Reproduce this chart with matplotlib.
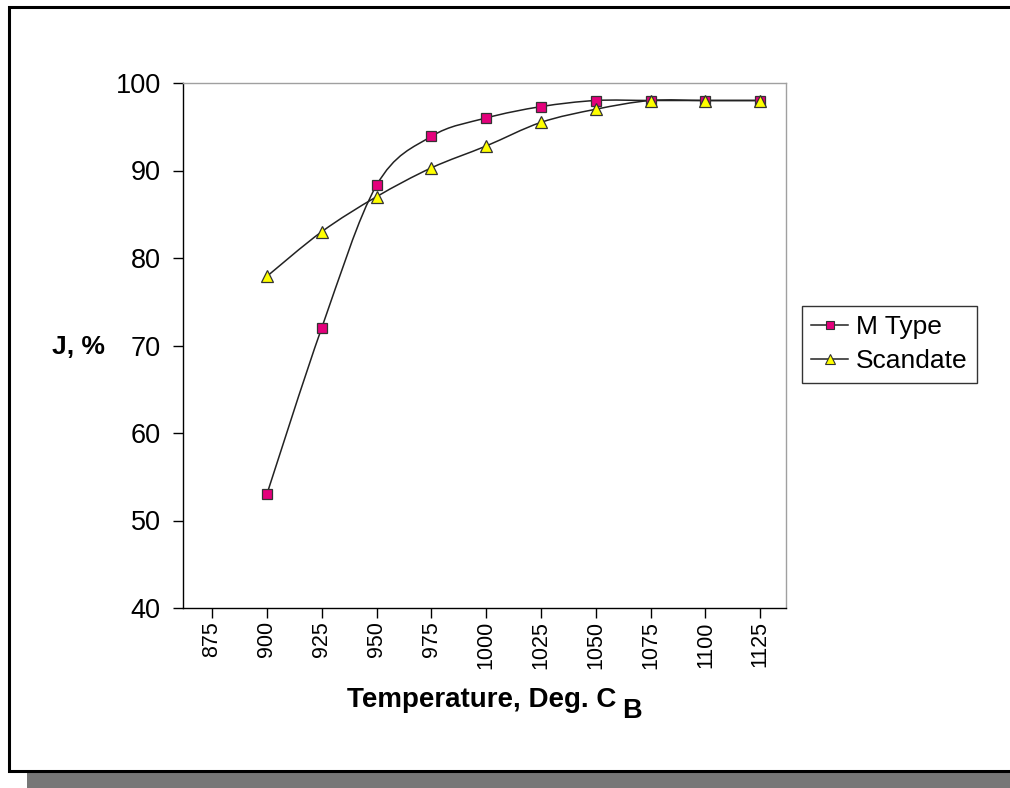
import numpy as np
import matplotlib.pyplot as plt
from matplotlib.path import Path
from matplotlib.patches import PathPatch, Rectangle
from matplotlib.lines import Line2D

plt.rcParams["font.family"] = ["Liberation Sans", "DejaVu Sans"]

# data
temps = ["875", "900", "925", "950", "975", "1000", "1025", "1050", "1075", "1100", "1125"]
m_type = [None, 53.0, 72.0, 88.3, 93.9, 96.0, 97.3, 98.0, 98.0, 98.0, 98.0]
scandate = [None, 77.9, 83.0, 87.0, 90.3, 92.8, 95.5, 97.0, 98.0, 98.0, 98.0]

LINE_C = "#222222"
EDGE_C = "#333333"


def smooth_path(xs, ys):
    # Excel style smoothed line: bezier segments with catmull-rom control points
    pts = np.column_stack([xs, ys]).astype(float)
    n = len(pts)
    verts = [pts[0]]
    codes = [Path.MOVETO]
    for i in range(n - 1):
        p0 = pts[i - 1] if i > 0 else pts[i]
        p1 = pts[i]
        p2 = pts[i + 1]
        p3 = pts[i + 2] if i + 2 < n else pts[i + 1]
        c1 = p1 + (p2 - p0) / 6.0
        c2 = p2 - (p3 - p1) / 6.0
        verts += [c1, c2, p2]
        codes += [Path.CURVE4] * 3
    return Path(verts, codes)


fig = plt.figure(figsize=(10.10, 7.88), dpi=100)

# outer chart frame with shadow
W, H = 1010.0, 788.0
fig.patches.append(Rectangle((27 / W, 0), 1.0, (788 - 772) / H, transform=fig.transFigure,
                             facecolor="#777777", edgecolor="none", zorder=0))
fig.patches.append(Rectangle((9 / W, (788 - 771) / H), 1.05, (771 - 7) / H, transform=fig.transFigure,
                             facecolor="white", edgecolor="black", linewidth=2.2, zorder=1))

ax = fig.add_axes([183 / W, (788 - 608) / H, 603 / W, 525 / H])
ax.set_zorder(2)
ax.patch.set_alpha(0)

x_idx = np.arange(len(temps))
series = [
    ("M Type", m_type, "s", "#e4007c", 7.5),
    ("Scandate", scandate, "^", "#ffff00", 8.5),
]
handles = []
for name, vals, mk, fc, ms in series:
    xs = [x for x, v in zip(x_idx, vals) if v is not None]
    ys = [v for v in vals if v is not None]
    ax.add_patch(PathPatch(smooth_path(xs, ys), facecolor="none", edgecolor=LINE_C,
                           linewidth=1.1, zorder=3))
    ax.plot(xs, ys, linestyle="none", marker=mk, markersize=ms, markerfacecolor=fc,
            markeredgecolor=EDGE_C, markeredgewidth=0.9, zorder=4)
    handles.append(Line2D([], [], color=LINE_C, linewidth=1.1, marker=mk, markersize=ms - 1.5,
                          markerfacecolor=fc, markeredgecolor=EDGE_C, markeredgewidth=0.8))

ax.set_xlim(-0.53, 10.47)
ax.set_ylim(40, 100)
ax.set_yticks(np.arange(40, 101, 10))
ax.set_xticks(x_idx)
ax.set_xticklabels(temps, rotation=90, fontsize=15.5)
ax.tick_params(axis="y", labelsize=19.5, length=7, width=1, pad=9, direction="out")
ax.tick_params(axis="x", length=7, width=1, pad=2.5, direction="out")

for s in ["top", "right"]:
    ax.spines[s].set_color("#a0a0a0")
    ax.spines[s].set_linewidth(1.0)
for s in ["left", "bottom"]:
    ax.spines[s].set_color("black")
    ax.spines[s].set_linewidth(1.0)

fig.text(78 / W, 1 - 347 / H, "J, %", ha="center", va="center", fontsize=19, fontweight="bold")
fig.text(347 / W, 1 - 707 / H, "Temperature, Deg. C", ha="left", va="baseline",
         fontsize=20, fontweight="bold")
fig.text(622 / W, 1 - 718 / H, "B", ha="left", va="baseline", fontsize=19.5, fontweight="bold")

leg = fig.legend(handles, [s[0] for s in series], loc="upper left",
                 bbox_to_anchor=(802 / W, 1 - 306 / H), borderaxespad=0, fontsize=19,
                 frameon=True, fancybox=False, edgecolor="black", handlelength=1.4,
                 handletextpad=0.3, borderpad=0.35, labelspacing=0.38)
leg.get_frame().set_linewidth(1.0)
leg.set_zorder(5)

fig.savefig("out.png", dpi=100)
